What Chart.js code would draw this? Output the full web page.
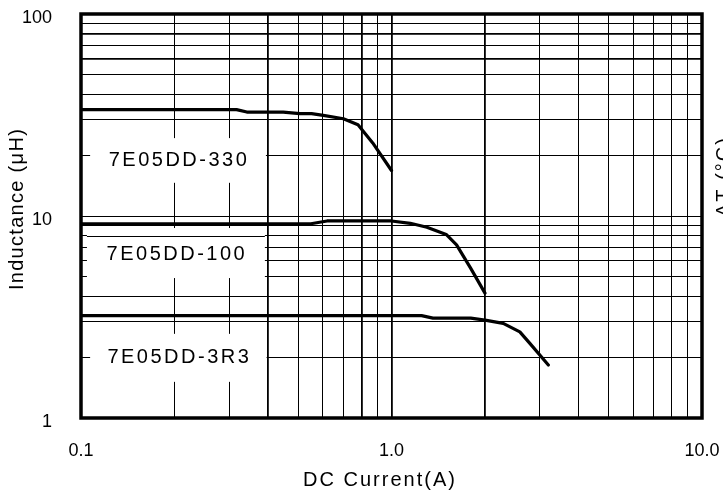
<!DOCTYPE html>
<html><head><meta charset="utf-8">
<script src="https://cdn.jsdelivr.net/npm/chart.js@4/dist/chart.umd.min.js"></script>
<style>html,body{margin:0;padding:0;background:#fff;overflow:hidden}canvas{display:block}</style>
</head><body>
<canvas id="c" width="723" height="493"></canvas>
<script>
// ---- data ----
const seriesNames = ['7E05DD-330', '7E05DD-100', '7E05DD-3R3'];
const current330 = [0.1, 0.317, 0.342, 0.448, 0.507, 0.553, 0.603, 0.70, 0.78, 0.87, 1.0];
const induct330  = [33.6, 33.6, 32.7, 32.7, 32.1, 32.1, 31.5, 30.3, 28.3, 23.0, 16.8];
const current100 = [0.1, 0.55, 0.62, 1.0, 1.15, 1.3, 1.5, 1.62, 1.8, 2.0];
const induct100  = [9.15, 9.15, 9.45, 9.45, 9.2, 8.8, 8.1, 7.2, 5.5, 4.15];
const current3R3 = [0.1, 1.25, 1.36, 1.8, 2.0, 2.29, 2.59, 2.79, 3.2];
const induct3R3  = [3.21, 3.21, 3.12, 3.12, 3.05, 2.94, 2.67, 2.34, 1.83];
const xGridValues = [0.1,0.2,0.3,0.4,0.5,0.6,0.7,0.8,0.9,1,2,3,4,5,6,7,8,9,10];
const xLabelValues = [0.1, 1, 10];
const xTickLabels = ['0.1', '1.0', '10.0'];
const yGridValues = [1,2,3,4,5,6,7,8,9,10,20,30,40,50,60,70,80,90,100];
const yLabelValues = [1, 10, 100];
const yTickLabels = ['1', '10', '100'];
const xTitle = 'DC Current(A)';
const yTitle = 'Inductance (\u03BCH)';
const rightTitle = '\u0394T (\u00B0C)';

// ---- layout/style (not data) ----
const FONT = "'Liberation Sans', Arial, sans-serif";
const labelBoxes = [
  {x0: 0.107, x1: 0.394, y0: 24.3, y1: 14.6, keepGrid: []},
  {x0: 0.1045, x1: 0.391, y0: 8.72, y1: 4.93, keepGrid: [8]},
  {x0: 0.107, x1: 0.396, y0: 2.61, y1: 1.51, keepGrid: []}
];
const thickX = [0.4, 0.8, 1, 2];
const thickY = [60, 80];

function zip(xs, ys) { return xs.map((x, i) => ({x: x, y: ys[i]})); }
function near(a, b) { return Math.abs(a - b) < 1e-6 * Math.max(1, Math.abs(b)); }
function labelFor(v, vals, labels) {
  for (let i = 0; i < vals.length; i++) if (near(v, vals[i])) return labels[i];
  return '';
}

const decor = {
  id: 'decor',
  beforeDatasetsDraw(chart) {
    const ctx = chart.ctx, xs = chart.scales.x, ys = chart.scales.y;
    ctx.save();
    labelBoxes.forEach((b, i) => {
      const l = xs.getPixelForValue(b.x0), r = xs.getPixelForValue(b.x1);
      const t = ys.getPixelForValue(b.y0), bt = ys.getPixelForValue(b.y1);
      ctx.fillStyle = '#fff';
      ctx.fillRect(l, t, r - l, bt - t);
      b.keepGrid.forEach(g => {
        const gy = Math.round(ys.getPixelForValue(g)) + 0.5;
        ctx.strokeStyle = '#000';
        ctx.lineWidth = 1;
        ctx.beginPath();
        ctx.moveTo(l, gy);
        ctx.lineTo(r, gy);
        ctx.stroke();
      });
      ctx.fillStyle = '#000';
      ctx.font = '20px ' + FONT;
      ctx.letterSpacing = '2.5px';
      ctx.textAlign = 'center';
      ctx.textBaseline = 'middle';
      const ty = i === 1 ? ys.getPixelForValue(b.y1) - 24 : (t + bt) / 2;
      ctx.fillText(seriesNames[i], (l + r) / 2 + 1, ty);
    });
    ctx.restore();
  },
  afterDraw(chart) {
    const ctx = chart.ctx, a = chart.chartArea;
    ctx.save();
    ctx.letterSpacing = '0px';
    ctx.strokeStyle = '#000';
    ctx.lineWidth = 3.5;
    ctx.strokeRect(a.left, a.top, a.right - a.left, a.bottom - a.top);
    ctx.fillStyle = '#000';
    ctx.font = '20px ' + FONT;
    ctx.letterSpacing = '2px';
    ctx.textAlign = 'center';
    ctx.textBaseline = 'alphabetic';
    ctx.fillText(xTitle, 380, 486);
    ctx.save();
    ctx.letterSpacing = '1.3px';
    ctx.translate(23, 209);
    ctx.rotate(-Math.PI / 2);
    ctx.fillText(yTitle, 0, 0);
    ctx.restore();
    ctx.save();
    ctx.letterSpacing = '2px';
    ctx.translate(730, 217);
    ctx.rotate(-Math.PI / 2);
    ctx.textAlign = 'left';
    ctx.fillText(rightTitle, 0, 0);
    ctx.restore();
    ctx.restore();
  }
};

const mkDs = (label, xs, ys) => ({
  label: label, data: zip(xs, ys), borderColor: '#000', borderWidth: 3.2,
  pointRadius: 0, tension: 0, fill: false, borderJoinStyle: 'round', borderCapStyle: 'round'
});

new Chart(document.getElementById('c'), {
  type: 'line',
  data: {
    datasets: [
      mkDs(seriesNames[0], current330, induct330),
      mkDs(seriesNames[1], current100, induct100),
      mkDs(seriesNames[2], current3R3, induct3R3)
    ]
  },
  options: {
    responsive: false,
    devicePixelRatio: 1,
    animation: false,
    events: [],
    layout: {padding: {left: 0, top: 14, right: 21, bottom: 0}},
    plugins: {legend: {display: false}, tooltip: {enabled: false}},
    scales: {
      x: {
        type: 'logarithmic', min: 0.1, max: 10,
        afterBuildTicks: s => { s.ticks = xGridValues.map(v => ({value: v})); },
        afterFit: s => { s.height = 75; s.paddingLeft = 0; s.paddingRight = 0; },
        ticks: {
          callback: v => labelFor(v, xLabelValues, xTickLabels),
          autoSkip: false, maxRotation: 0, color: '#000', padding: 22,
          font: {family: FONT, size: 18}
        },
        grid: {
          color: '#000', drawTicks: false,
          lineWidth: c => (c.tick && thickX.some(t => near(c.tick.value, t))) ? 1.8 : 1
        },
        border: {display: false}
      },
      y: {
        type: 'logarithmic', min: 1, max: 100,
        afterBuildTicks: s => { s.ticks = yGridValues.map(v => ({value: v})); },
        afterFit: s => { s.width = 81; s.paddingTop = 0; s.paddingBottom = 0; },
        ticks: {
          callback: v => labelFor(v, yLabelValues, yTickLabels),
          autoSkip: false, color: '#000', padding: 29, labelOffset: 4,
          font: {family: FONT, size: 18}
        },
        grid: {
          color: '#000', drawTicks: false,
          lineWidth: c => (c.tick && thickY.some(t => near(c.tick.value, t))) ? 1.8 : 1
        },
        border: {display: false}
      }
    }
  },
  plugins: [decor]
});
</script>
</body></html>
